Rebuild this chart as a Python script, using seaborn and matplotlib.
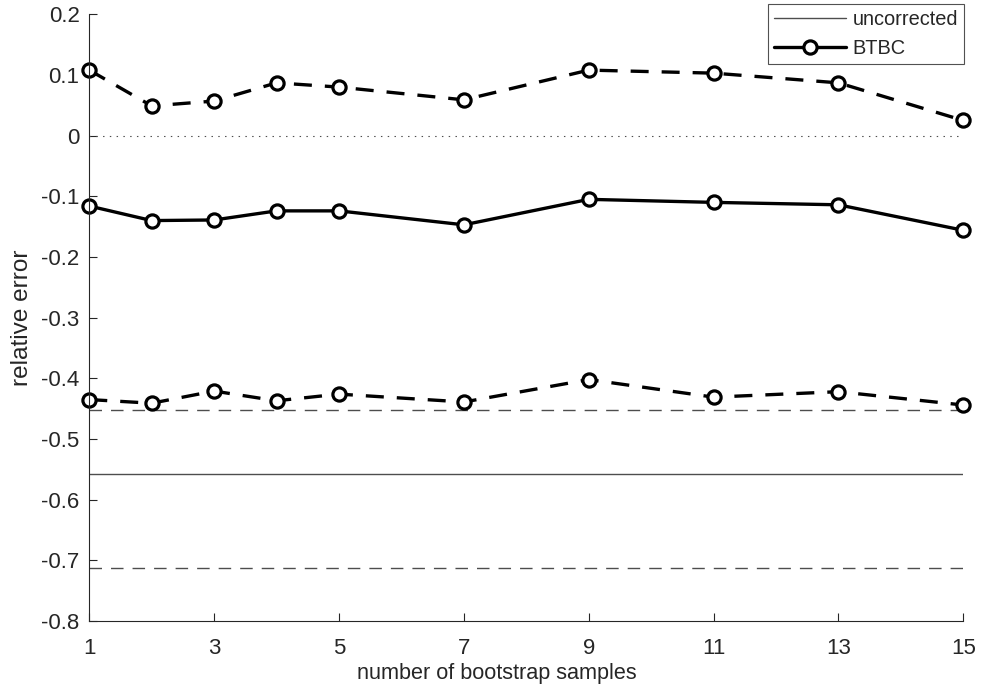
import numpy as np
import pandas as pd
import seaborn as sns
import matplotlib.pyplot as plt

# data
n_samples = [1, 2, 3, 4, 5, 7, 9, 11, 13, 15]
btbc_mean = [-0.116, -0.140, -0.139, -0.124, -0.124, -0.147, -0.105, -0.110, -0.114, -0.156]
btbc_upper = [0.108, 0.049, 0.057, 0.087, 0.080, 0.059, 0.108, 0.103, 0.087, 0.025]
btbc_lower = [-0.435, -0.441, -0.421, -0.437, -0.426, -0.439, -0.402, -0.431, -0.422, -0.444]
uncorr_x = [1, 15]
uncorr_mean = [-0.558, -0.558]
uncorr_upper = [-0.452, -0.452]
uncorr_lower = [-0.713, -0.713]
zero_line = [0, 0]

x_ticks = [1, 3, 5, 7, 9, 11, 13, 15]
y_ticks = [-0.8, -0.7, -0.6, -0.5, -0.4, -0.3, -0.2, -0.1, 0, 0.1, 0.2]
y_labels = ["-0.8", "-0.7", "-0.6", "-0.5", "-0.4", "-0.3", "-0.2", "-0.1", "0", "0.1", "0.2"]

sns.set_style("ticks")
plt.rcParams["font.family"] = ["Liberation Sans", "DejaVu Sans"]
plt.rcParams["axes.unicode_minus"] = False
plt.rcParams["xtick.direction"] = "in"
plt.rcParams["ytick.direction"] = "in"

df = pd.DataFrame({"n": n_samples, "mean": btbc_mean,
                   "upper": btbc_upper, "lower": btbc_lower})

fig = plt.figure(figsize=(9.82, 6.97), dpi=100)
ax = fig.add_axes([0.0909, 0.109, 0.8901, 0.8705])

grey = "#4d4d4d"
sns.lineplot(x=uncorr_x, y=zero_line, ax=ax, color=grey, lw=0.8, linestyle=(0, (1.3, 4.8)))
sns.lineplot(x=uncorr_x, y=uncorr_mean, ax=ax, color=grey, lw=1.0, label="uncorrected")
sns.lineplot(x=uncorr_x, y=uncorr_upper, ax=ax, color=grey, lw=1.0, linestyle=(0, (9, 6.5)))
sns.lineplot(x=uncorr_x, y=uncorr_lower, ax=ax, color=grey, lw=1.0, linestyle=(0, (9, 6.5)))

mk = dict(marker="o", markersize=9.5, markeredgewidth=2.3, markerfacecolor="white",
          markeredgecolor="black", color="black", clip_on=False)
sns.lineplot(data=df, x="n", y="mean", ax=ax, lw=2.4, label="BTBC", **mk)
sns.lineplot(data=df, x="n", y="upper", ax=ax, lw=2.4, linestyle=(0, (5.4, 3.9)), **mk)
sns.lineplot(data=df, x="n", y="lower", ax=ax, lw=2.4, linestyle=(0, (5.4, 3.9)), **mk)

ax.set_xlim(1, 15)
ax.set_ylim(-0.8, 0.2)
ax.set_xticks(x_ticks)
ax.set_yticks(y_ticks)
ax.set_yticklabels(y_labels)
ax.tick_params(labelsize=16, colors="#262626", length=6, width=0.8)
ax.tick_params(axis="x", pad=12)
ax.tick_params(axis="y", pad=7)
ax.set_xlabel("number of bootstrap samples", fontsize=15.6, color="#262626")
ax.xaxis.set_label_coords(0.4665, -0.0685)
ax.set_ylabel("relative error", fontsize=17.6, color="#262626", labelpad=6)
for s in ["left", "bottom"]:
    ax.spines[s].set_color("#262626")
    ax.spines[s].set_linewidth(0.8)
sns.despine(ax=ax)

leg = ax.legend(loc="upper right", bbox_to_anchor=(1.001, 1.017), borderaxespad=0,
                fontsize=14.4, frameon=True, fancybox=False, handlelength=3.6,
                borderpad=0.3, labelspacing=0.5, handletextpad=0.35)
leg.get_frame().set_edgecolor("#262626")
leg.get_frame().set_linewidth(0.8)

fig.savefig("out.png", dpi=100)
